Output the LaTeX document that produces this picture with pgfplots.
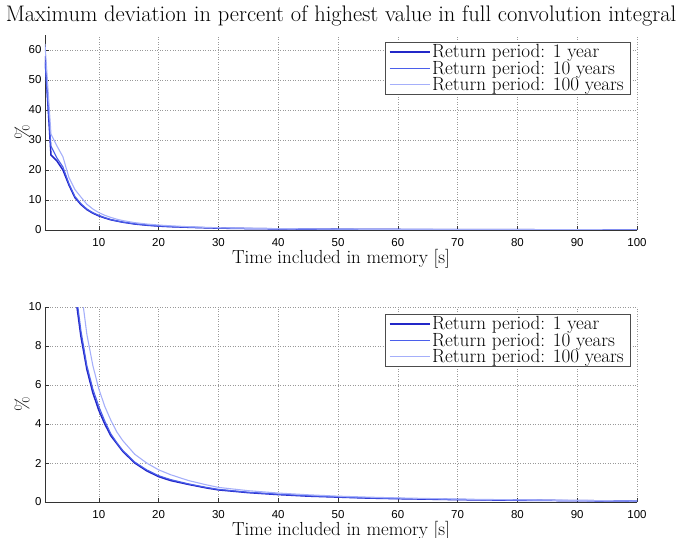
\documentclass[border=0pt]{standalone}
\usepackage{fontspec}
\usepackage{pgfplots}
\pgfplotsset{compat=1.18}
\newfontfamily\tickfont{Liberation Sans}

\definecolor{retA}{RGB}{35,40,200}
\definecolor{retB}{RGB}{75,95,235}
\definecolor{retC}{RGB}{165,175,250}

% deviation (%) versus time kept in memory (s)
\pgfplotstableread{
t    y1     y10    y100
1    58.0   56.0   62.0
2    25.0   28.0   32.0
3    23.0   24.0   28.0
4    20.0   21.0   24.4
5    15.0   15.5   17.5
6    10.8   11.2   13.5
7    8.5    8.8    11.0
8    6.8    7.0    8.6
9    5.6    5.8    7.0
10   4.7    4.9    5.8
11   4.0    4.15   4.9
12   3.4    3.5    4.2
13   3.0    3.05   3.6
14   2.6    2.65   3.15
15   2.3    2.35   2.8
16   2.0    2.05   2.45
18   1.6    1.65   2.0
20   1.3    1.35   1.65
22   1.1    1.15   1.4
25   0.9    0.93   1.1
28   0.72   0.75   0.88
30   0.62   0.65   0.75
35   0.48   0.50   0.58
40   0.38   0.40   0.46
45   0.30   0.32   0.37
50   0.25   0.26   0.30
55   0.20   0.21   0.25
60   0.17   0.18   0.21
70   0.12   0.13   0.15
80   0.09   0.10   0.11
90   0.07   0.07   0.08
100  0.05   0.05   0.05
}\devdata

% longer line samples in the legends
\pgfplotsset{
  legend image code/.code={%
    \draw[mark repeat=2,mark phase=2,#1] plot coordinates {(0bp,0bp) (20bp,0bp) (40bp,0bp)};},
}

\pgfplotsset{
  devaxis/.style={
    scale only axis, width=592bp, height=195bp,
    xmin=1, xmax=100,
    xtick={10,20,...,100},
    axis x line*=bottom, axis y line*=left,
    axis line style={-, black!80, line width=0.6pt},
    tick align=inside, tick style={black!80, line width=0.6pt},
    major tick length=4bp,
    grid=major,
    major grid style={black!40, line width=0.45pt, dash pattern=on 0.7bp off 1.8bp},
    /pgf/number format/assume math mode=true,
    ticklabel style={font=\tickfont\fontsize{11.5bp}{13bp}\selectfont, text=black},
    xticklabel style={yshift=-5bp},
    xlabel={Time included in memory [s]},
    ylabel={\%},
    label style={font=\fontsize{18.9bp}{20bp}\selectfont},
    xlabel style={at={(axis description cs:0.5,0)}, anchor=base, yshift=-33bp},
    ylabel style={at={(axis description cs:0,0.5)}, anchor=center, yshift=23bp},
    legend cell align=left,
    legend style={at={(rel axis cs:1,1)}, xshift=-7bp, yshift=-7bp, anchor=north east,
      draw=black!70, inner xsep=4bp, inner ysep=0.5pt, row sep=-2.6bp,
      font=\fontsize{19.1bp}{18bp}\selectfont},
  },
}

\begin{document}
\begin{tikzpicture}
\useasboundingbox (-45bp,-308bp) rectangle (632bp,230bp);
\begin{axis}[devaxis,
    ymin=0, ymax=65, ytick={0,10,...,60},
    title={Maximum deviation in percent of highest value in full convolution integral},
    title style={font=\fontsize{22.5bp}{24bp}\selectfont,
      at={(axis description cs:0.5,1)}, anchor=base, yshift=8bp},
  ]
  \addplot[retA, line width=1.5pt] table[x=t, y=y1] {\devdata};
  \addplot[retB, line width=1.1pt] table[x=t, y=y10] {\devdata};
  \addplot[retC, line width=1.1pt] table[x=t, y=y100] {\devdata};
  \legend{Return period: 1 year, Return period: 10 years, Return period: 100 years}
\end{axis}
\begin{axis}[devaxis, at={(0,-272bp)},
    ymin=0, ymax=10, ytick={0,2,...,10},
    restrict y to domain=0:30,
  ]
  \addplot[retA, line width=1.5pt] table[x=t, y=y1] {\devdata};
  \addplot[retB, line width=1.1pt] table[x=t, y=y10] {\devdata};
  \addplot[retC, line width=1.1pt] table[x=t, y=y100] {\devdata};
  \legend{Return period: 1 year, Return period: 10 years, Return period: 100 years}
\end{axis}
\end{tikzpicture}
\end{document}
